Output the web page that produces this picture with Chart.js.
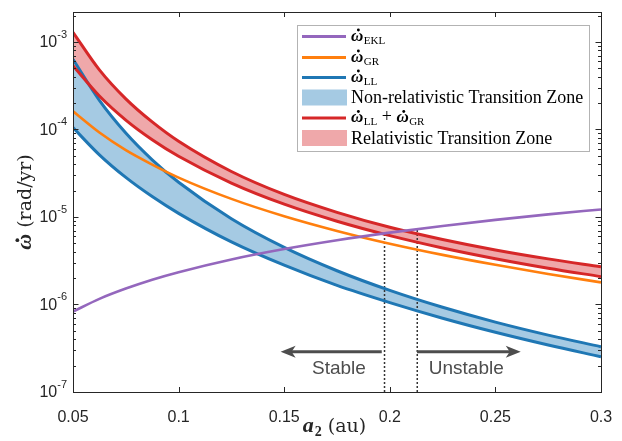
<!DOCTYPE html>
<html>
<head>
<meta charset="utf-8">
<script src="https://cdn.jsdelivr.net/npm/chart.js@4.4.1/dist/chart.umd.min.js"></script>
<style>
  body { margin: 0; background: #fff; }
  canvas { display: block; }
</style>
</head>
<body>
<canvas id="chart" width="622" height="441"></canvas>
<script>
// a2 (au) sample positions
var A2 = [0.05, 0.0625, 0.075, 0.0875, 0.1, 0.125, 0.15, 0.175, 0.2, 0.225, 0.25, 0.275, 0.3];

// precession rates (rad/yr)
var OMEGA_EKL = [8.3e-7, 1.16e-6, 1.52e-6, 1.92e-6, 2.34e-6, 3.27e-6, 4.30e-6, 5.42e-6, 6.62e-6, 7.90e-6, 9.26e-6, 1.07e-5, 1.22e-5];
var OMEGA_GR = [1.61e-4, 9.22e-5, 5.80e-5, 3.97e-5, 2.82e-5, 1.61e-5, 1.02e-5, 6.93e-6, 4.95e-6, 3.69e-6, 2.84e-6, 2.23e-6, 1.79e-6];
var LL_HI = [6.34e-4, 2.15e-4, 9.10e-5, 4.50e-5, 2.49e-5, 9.54e-6, 4.49e-6, 2.43e-6, 1.45e-6, 9.29e-7, 6.29e-7, 4.47e-7, 3.29e-7];
var LL_LO = [1.05e-4, 5.13e-5, 2.83e-5, 1.71e-5, 1.10e-5, 5.19e-6, 2.81e-6, 1.65e-6, 1.05e-6, 6.96e-7, 4.81e-7, 3.44e-7, 2.53e-7];
var SUM_HI = [1.29e-3, 4.80e-4, 2.24e-4, 1.22e-4, 7.33e-5, 3.31e-5, 1.81e-5, 1.13e-5, 7.62e-6, 5.53e-6, 4.20e-6, 3.32e-6, 2.70e-6];
var SUM_LO = [5.36e-4, 2.41e-4, 1.28e-4, 7.63e-5, 4.94e-5, 2.44e-5, 1.40e-5, 8.95e-6, 6.13e-6, 4.43e-6, 3.34e-6, 2.60e-6, 2.08e-6];

// stability boundaries and arrows
var EDGE_X = [0.1975, 0.213];
var EDGE_TOP = [6.7e-6, 7.3e-6];
var ARROW_Y = 2.89e-7;
var ARROW_LEFT = [0.1962, 0.1483];
var ARROW_RIGHT = [0.2129, 0.2620];
var TEXT_Y = 1.83e-7;
var TEXT_X = [0.1759, 0.2362];
var TEXT_LABELS = ['Stable', 'Unstable'];

var X_TICKS = [0.05, 0.1, 0.15, 0.2, 0.25, 0.3];
var Y_DECADES = [-7, -6, -5, -4, -3];

var PURPLE = '#9467bd', ORANGE = '#ff7f0e', BLUE = '#1f77b4', RED = '#d62728';
var BLUE_FILL = '#a5cae3', RED_FILL = '#efa8aa';
var AXIS = '#262626', ARROW = '#4d4d4d';

function pts(ys) {
  return A2.map(function (x, i) { return { x: x, y: ys[i] }; });
}

function omega(ctx, x, base, size) {
  // bold omega with a dot above
  ctx.font = 'bold italic ' + size + 'px "Liberation Serif"';
  ctx.textAlign = 'left';
  ctx.textBaseline = 'alphabetic';
  ctx.fillText('\u03c9', x, base);
  var w = ctx.measureText('\u03c9').width;
  ctx.beginPath();
  ctx.arc(x + w * 0.6, base - size * 0.62, size * 0.085, 0, Math.PI * 2);
  ctx.fill();
  return w;
}

function omegaSub(ctx, x, base, size, sub) {
  var w = omega(ctx, x, base, size);
  ctx.font = Math.round(size * 0.66) + 'px "Liberation Serif"';
  ctx.fillText(sub, x + w + 0.5, base + size * 0.2);
  return w + 0.5 + ctx.measureText(sub).width;
}

var overlay = {
  id: 'overlay',
  afterDraw: function (chart) {
    var ctx = chart.ctx, ca = chart.chartArea;
    var xs = chart.scales.x, ys = chart.scales.y;
    ctx.save();

    // axes box
    ctx.strokeStyle = AXIS;
    ctx.lineWidth = 1;
    ctx.strokeRect(Math.round(ca.left) + 0.5, Math.round(ca.top) + 0.5,
      Math.round(ca.right - ca.left), Math.round(ca.bottom - ca.top));

    // x ticks, bottom and top, inward
    ctx.beginPath();
    X_TICKS.forEach(function (v) {
      var px = Math.round(xs.getPixelForValue(v)) + 0.5;
      ctx.moveTo(px, ca.bottom); ctx.lineTo(px, ca.bottom - 5);
      ctx.moveTo(px, ca.top); ctx.lineTo(px, ca.top + 5);
    });
    // y ticks, major and minor
    Y_DECADES.forEach(function (k) {
      for (var m = 1; m <= 9; m++) {
        var v = m * Math.pow(10, k);
        if (v > ys.max) break;
        var py = Math.round(ys.getPixelForValue(v)) + 0.5;
        var len = m === 1 ? 5.5 : 3;
        ctx.moveTo(ca.left, py); ctx.lineTo(ca.left + len, py);
        ctx.moveTo(ca.right, py); ctx.lineTo(ca.right - len, py);
      }
    });
    ctx.stroke();

    // y tick labels 10^k
    ctx.fillStyle = AXIS;
    Y_DECADES.forEach(function (k) {
      var py = ys.getPixelForValue(Math.pow(10, k));
      var sup = '-' + Math.abs(k);
      ctx.font = '11px "Liberation Sans"';
      var ws = ctx.measureText(sup).width;
      var xe = 67;
      ctx.textAlign = 'left';
      ctx.textBaseline = 'alphabetic';
      ctx.fillText(sup, xe - ws, py - 4);
      ctx.font = '16px "Liberation Sans"';
      ctx.textAlign = 'right';
      ctx.textBaseline = 'middle';
      ctx.fillText('10', xe - ws, py + 1);
    });

    // y axis title
    ctx.save();
    ctx.translate(24, 202);
    ctx.rotate(-Math.PI / 2);
    ctx.font = '19px "DejaVu Serif"';
    var wt = ctx.measureText(' (rad/yr)').width;
    ctx.font = 'bold italic 22px "Liberation Serif"';
    var wo = ctx.measureText('\u03c9').width;
    var x0 = -(wt + wo) / 2;
    omega(ctx, x0, 7, 22);
    ctx.font = '19px "DejaVu Serif"';
    ctx.textAlign = 'left';
    ctx.fillText(' (rad/yr)', x0 + wo, 7);
    ctx.restore();

    // x axis title
    ctx.font = 'bold italic 22px "Liberation Serif"';
    var wa = ctx.measureText('a').width;
    ctx.font = 'bold 14px "Liberation Serif"';
    var w2 = ctx.measureText('2').width;
    ctx.font = '19px "DejaVu Serif"';
    var wau = ctx.measureText(' (au)').width;
    var xt = 334 - (wa + w2 + wau) / 2;
    ctx.textAlign = 'left';
    ctx.textBaseline = 'alphabetic';
    ctx.font = 'bold italic 22px "Liberation Serif"';
    ctx.fillText('a', xt, 432);
    ctx.font = 'bold 14px "Liberation Serif"';
    ctx.fillText('2', xt + wa + 1, 436);
    ctx.font = '19px "DejaVu Serif"';
    ctx.fillText(' (au)', xt + wa + w2 + 1, 432);

    // arrows
    ctx.fillStyle = ARROW;
    ctx.strokeStyle = ARROW;
    ctx.lineWidth = 3;
    [ARROW_LEFT, ARROW_RIGHT].forEach(function (ar) {
      var x1 = xs.getPixelForValue(ar[0]), x2 = xs.getPixelForValue(ar[1]);
      var py = ys.getPixelForValue(ARROW_Y);
      var dir = x2 > x1 ? 1 : -1;
      ctx.beginPath();
      ctx.moveTo(x1, py); ctx.lineTo(x2 - dir * 8, py);
      ctx.stroke();
      ctx.beginPath();
      ctx.moveTo(x2, py);
      ctx.lineTo(x2 - dir * 15, py - 6);
      ctx.lineTo(x2 - dir * 11, py);
      ctx.lineTo(x2 - dir * 15, py + 6);
      ctx.closePath();
      ctx.fill();
    });
    ctx.font = '19px "Liberation Sans"';
    ctx.textAlign = 'center';
    ctx.textBaseline = 'middle';
    TEXT_LABELS.forEach(function (t, i) {
      ctx.fillText(t, xs.getPixelForValue(TEXT_X[i]), ys.getPixelForValue(TEXT_Y));
    });

    // legend
    ctx.fillStyle = '#fff';
    ctx.fillRect(297.5, 25.5, 292, 126);
    ctx.strokeStyle = '#b3b3b3';
    ctx.lineWidth = 1;
    ctx.strokeRect(297.5, 25.5, 292, 126);
    var rows = [36.5, 57.5, 77.5, 97.5, 118, 138];
    var lx0 = 302, lx1 = 346, tx = 351;
    function lineSample(y, c) {
      ctx.strokeStyle = c; ctx.lineWidth = 3;
      ctx.beginPath(); ctx.moveTo(lx0, y); ctx.lineTo(lx1, y); ctx.stroke();
    }
    function patch(y, c) {
      ctx.fillStyle = c;
      ctx.fillRect(lx0, y - 8, lx1 - lx0 + 1, 16);
    }
    lineSample(rows[0], PURPLE);
    lineSample(rows[1], ORANGE);
    lineSample(rows[2], BLUE);
    patch(rows[3], BLUE_FILL);
    lineSample(rows[4], RED);
    patch(rows[5], RED_FILL);

    ctx.fillStyle = '#000';
    omegaSub(ctx, tx, rows[0] + 4, 17, 'EKL');
    omegaSub(ctx, tx, rows[1] + 4, 17, 'GR');
    omegaSub(ctx, tx, rows[2] + 4, 17, 'LL');
    var w = omegaSub(ctx, tx, rows[4] + 4, 17, 'LL');
    ctx.font = '18px "Liberation Serif"';
    ctx.fillText(' + ', tx + w, rows[4] + 4);
    w += ctx.measureText(' + ').width;
    omegaSub(ctx, tx + w, rows[4] + 4, 17, 'GR');
    ctx.font = '18px "Liberation Serif"';
    ctx.textAlign = 'left';
    ctx.textBaseline = 'middle';
    ctx.fillText('Non-relativistic Transition Zone', tx, rows[3] + 1);
    ctx.fillText('Relativistic Transition Zone', tx, rows[5] + 1);

    ctx.restore();
  }
};

var line = function (label, data, color, width, extra) {
  var d = { label: label, data: pts(data), borderColor: color, borderWidth: width,
    pointRadius: 0, cubicInterpolationMode: 'monotone', fill: false };
  return Object.assign(d, extra || {});
};

var datasets = [
  line('EKL', OMEGA_EKL, PURPLE, 2.6),
  line('LL+GR hi', SUM_HI, RED, 3, { fill: '+1', backgroundColor: RED_FILL }),
  line('LL+GR lo', SUM_LO, RED, 3),
  line('GR', OMEGA_GR, ORANGE, 2.6),
  line('LL hi', LL_HI, BLUE, 3, { fill: '+1', backgroundColor: BLUE_FILL }),
  line('LL lo', LL_LO, BLUE, 3)
];
EDGE_X.forEach(function (ex, i) {
  datasets.push({ label: 'edge' + i, data: [{ x: ex, y: 1e-7 }, { x: ex, y: EDGE_TOP[i] }],
    borderColor: '#333', borderWidth: 1.5, borderDash: [2, 2], pointRadius: 0, fill: false });
});

new Chart(document.getElementById('chart'), {
  type: 'line',
  data: { datasets: datasets },
  options: {
    responsive: false,
    devicePixelRatio: 1,
    animation: false,
    layout: { padding: { top: 12, right: 21, left: 0, bottom: 0 } },
    plugins: {
      legend: { display: false },
      tooltip: { enabled: false },
      filler: { drawTime: 'beforeDatasetsDraw' }
    },
    scales: {
      x: {
        type: 'linear', min: 0.05, max: 0.3,
        grid: { display: false }, border: { display: false },
        ticks: {
          stepSize: 0.05, padding: 8, color: AXIS, maxRotation: 0,
          font: { family: 'Liberation Sans', size: 16 },
          callback: function (v) { return String(Number(v.toFixed(2))); }
        },
        afterFit: function (s) { s.height = 49; }
      },
      y: {
        type: 'logarithmic', min: 1e-7, max: 2.2e-3,
        grid: { display: false }, border: { display: false },
        ticks: { display: false },
        afterFit: function (s) { s.width = 73; }
      }
    }
  },
  plugins: [overlay]
});
</script>
</body>
</html>
